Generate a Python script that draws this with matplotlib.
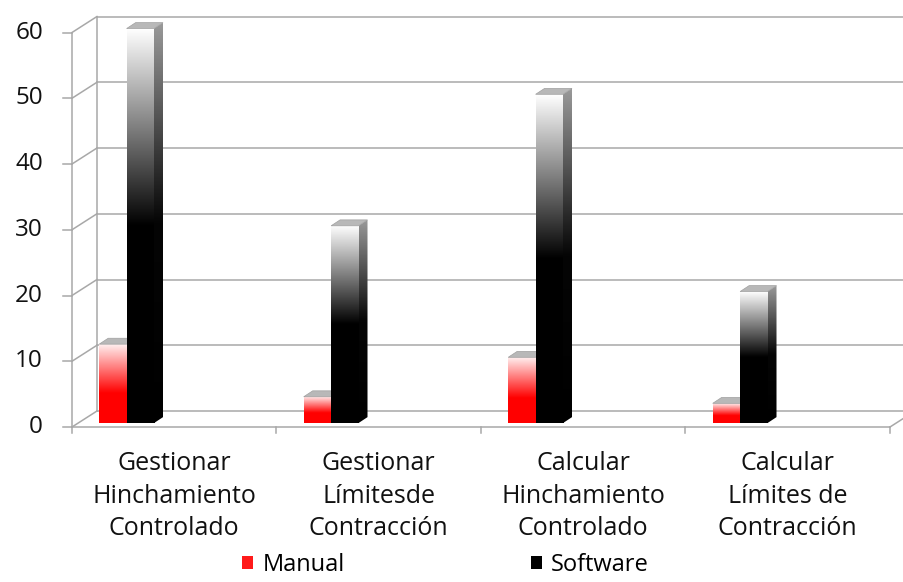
import numpy as np
import matplotlib
matplotlib.use("Agg")
import matplotlib.pyplot as plt
from matplotlib.colors import LinearSegmentedColormap
from matplotlib.patches import Polygon, Patch

plt.rcParams['font.family'] = ['Open Sans', 'DejaVu Sans']

# data
categories = ["Gestionar\nHinchamiento\nControlado",
              "Gestionar\nLímitesde\nContracción",
              "Calcular\nHinchamiento\nControlado",
              "Calcular\nLímites de\nContracción"]
manual = [12, 4, 10, 3]
software = [60, 30, 50, 20]
yticks = [0, 10, 20, 30, 40, 50, 60]

# fake 3d geometry (category units / value units)
wall_dx, wall_dy = 0.122, 2.43      # depth of the back wall
bar_dx, bar_dy = 0.044, 0.9         # depth of each column
bar_off, bar_w = 0.133, 0.134       # first column offset / width inside a category
bar_base = 0.6
grid_col = "#a8a8a8"

cm_manual = LinearSegmentedColormap.from_list("m", [(0, "#ff0000"), (0.38, "#ff0000"), (1, "#fff0f0")])
cm_soft = LinearSegmentedColormap.from_list("s", [(0, "#000000"), (0.5, "#000000"), (1, "#ffffff")])
cm_side = LinearSegmentedColormap.from_list("sd", [(0, "#000000"), (0.5, "#050505"), (1, "#9a9a9a")])
grad = np.linspace(0, 1, 256).reshape(-1, 1)

fig = plt.figure(figsize=(9.04, 5.82), dpi=100)
ax = fig.add_axes([0, 0, 1, 1])
ax.axis("off")

n = len(categories)
top = yticks[-1]

# back wall + gridlines
for t in yticks:
    ax.plot([wall_dx, n + wall_dx + 0.2], [t + wall_dy, t + wall_dy], color=grid_col, lw=1.1, zorder=1)
    ax.plot([0, wall_dx], [t, t + wall_dy], color=grid_col, lw=1.1, zorder=1)
    ax.plot([-0.045, 0], [t, t], color=grid_col, lw=1.1, zorder=1)
    ax.text(-0.142, t, str(t), ha="right", va="center", fontsize=17.5, color="#111111")
ax.plot([wall_dx, wall_dx], [wall_dy, top + wall_dy], color=grid_col, lw=1.1, zorder=1)
ax.plot([0, 0], [0, top], color=grid_col, lw=1.1, zorder=1)
# floor front edge
ax.plot([0, n], [0, 0], color=grid_col, lw=1.1, zorder=1)
ax.plot([n, n + wall_dx], [0, wall_dy], color=grid_col, lw=1.1, zorder=1)
for i in range(n + 1):
    ax.plot([i, i], [0, -0.9], color=grid_col, lw=1.1, zorder=1)

for i, lab in enumerate(categories):
    ax.text(i + 0.5, -10.5, lab, ha="center", va="center", fontsize=18,
            linespacing=1.4, color="#111111")


def column(x0, h, cmap, z):
    x1 = x0 + bar_w
    y0, y1 = bar_base, bar_base + h
    ax.imshow(grad, cmap=cmap, origin="lower", extent=(x0, x1, y0, y1),
              aspect="auto", zorder=z, interpolation="bilinear")
    side = Polygon([(x1, y0), (x1 + bar_dx, y0 + bar_dy), (x1 + bar_dx, y1 + bar_dy), (x1, y1)],
                   closed=True, facecolor="none", edgecolor="none", zorder=z)
    ax.add_patch(side)
    im2 = ax.imshow(grad, cmap=cm_side, origin="lower", extent=(x1, x1 + bar_dx, y0, y1 + bar_dy),
                    aspect="auto", zorder=z, interpolation="bilinear")
    im2.set_clip_path(side)
    ax.add_patch(Polygon([(x0, y1), (x0 + bar_dx, y1 + bar_dy), (x1 + bar_dx, y1 + bar_dy), (x1, y1)],
                         closed=True, facecolor="#b8b8b8", edgecolor="#a0a0a0", lw=0.5, zorder=z))


for i in range(n):
    column(i + bar_off, manual[i], cm_manual, 3)
    column(i + bar_off + bar_w, software[i], cm_soft, 4)

ax.set_xlim(-72 / 204.5, (904 - 72) / 204.5)
ax.set_ylim(-(582 - 427) / 6.575, 427 / 6.575)

handles = [Patch(facecolor="#ff1a1a", edgecolor="none", label="Manual"),
           Patch(facecolor="#000000", edgecolor="none", label="Software")]
fig.legend(handles=handles, loc="lower center", bbox_to_anchor=(0.493, -0.028), ncol=2,
           frameon=False, fontsize=17, handlelength=0.45, handleheight=0.45,
           handletextpad=0.4, columnspacing=7.9)

fig.savefig("out.png", dpi=100)
